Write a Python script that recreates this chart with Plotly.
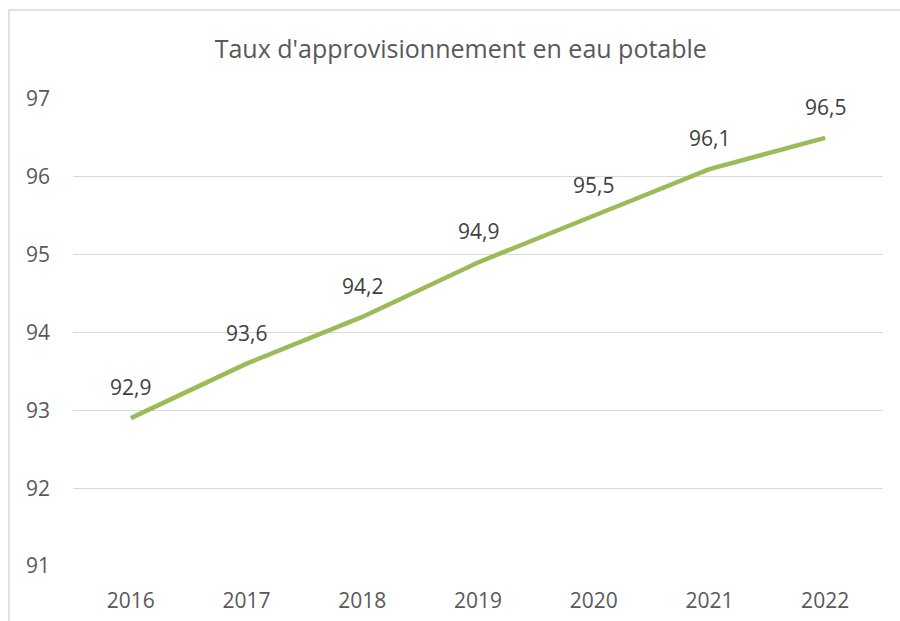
import plotly.graph_objects as go

years = ["2016", "2017", "2018", "2019", "2020", "2021", "2022"]
values = [92.9, 93.6, 94.2, 94.9, 95.5, 96.1, 96.5]
labels = ["92,9", "93,6", "94,2", "94,9", "95,5", "96,1", "96,5"]
y_ticks = [91, 92, 93, 94, 95, 96, 97]

GREEN = "#9BBB59"
TXT = "#595959"
GRID = "#D9D9D9"
FONT = "Open Sans"

fig = go.Figure()
fig.add_trace(go.Scatter(x=years, y=values, mode="lines",
                         line=dict(color=GREEN, width=4.5), hoverinfo="skip"))

for i, (y, t) in enumerate(zip(values, labels)):
    fig.add_annotation(x=i, y=y, xref="x", yref="y", text=t, showarrow=False,
                       yshift=31,
                       font=dict(family=FONT, size=21, color="#404040"))

fig.add_shape(type="rect", xref="paper", yref="paper",
              x0=-0.079, y0=-0.3, x1=1.2, y1=1.1906,
              line=dict(color=GRID, width=1.5), layer="below")

fig.update_layout(
    width=900, height=621,
    paper_bgcolor="white", plot_bgcolor="white",
    margin=dict(l=73, r=17, t=99, b=55),
    showlegend=False,
    title=dict(text="Taux d'approvisionnement en eau potable",
               x=0.512, xanchor="center", y=0.92, yanchor="middle",
               font=dict(family=FONT, size=25, color=TXT)),
    font=dict(family=FONT, color=TXT, size=20),
    xaxis=dict(type="category", range=[-0.5, 6.5], showgrid=False,
               showline=False, zeroline=False, ticks="", ticklabelstandoff=20,
               automargin=False,
               tickfont=dict(family=FONT, size=21, color=TXT)),
    yaxis=dict(range=[91, 97], tickvals=y_ticks, showgrid=True,
               gridcolor=GRID, gridwidth=1, zeroline=False, showline=False,
               ticks="", ticklabelstandoff=22, automargin=False,
               tickfont=dict(family=FONT, size=21, color=TXT)),
)

fig.write_html("out.html", config={"displayModeBar": False},
               post_script="document.body.style.margin='0';document.body.style.overflow='hidden';")
